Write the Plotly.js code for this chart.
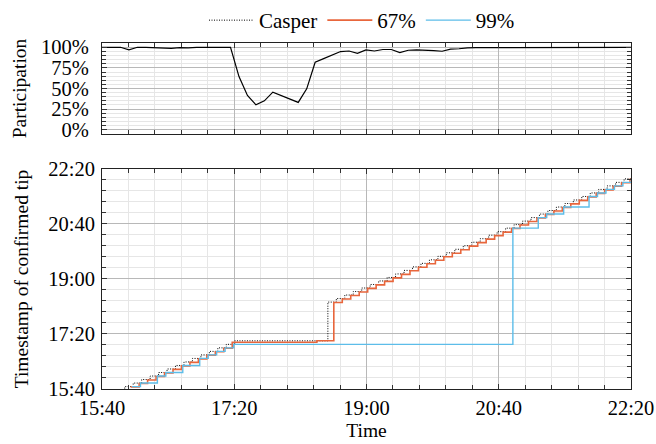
<!DOCTYPE html>
<html>
<head>
<meta charset="utf-8">
<script src="https://cdn.plot.ly/plotly-3.0.1.min.js"></script>
<style>
  html, body { margin: 0; padding: 0; background: #fff; }
  #chart { width: 656px; height: 444px; }
</style>
</head>
<body>
<div id="chart"></div>
<script>
// ---- data (clock times, same day) ----
const DAY = '2023-05-12 ';

// Participation per epoch (plotted at the middle of each epoch)
const partTimes = ['15:34:47','15:41:11','15:47:35','15:53:59','16:00:23','16:06:47','16:13:11','16:19:35','16:25:59','16:32:23',
  '16:38:47','16:45:11','16:51:35','16:57:59','17:04:23','17:10:47','17:17:11','17:23:35','17:29:59','17:36:23',
  '17:42:47','17:49:11','17:55:35','18:01:59','18:08:23','18:14:47','18:21:11','18:27:35','18:33:59','18:40:23',
  '18:46:47','18:53:11','18:59:35','19:05:59','19:12:23','19:18:47','19:25:11','19:31:35','19:37:59','19:44:23',
  '19:50:47','19:57:11','20:03:35','20:09:59','20:16:23','20:22:47','20:29:11','20:35:35','20:41:59','20:48:23',
  '20:54:47','21:01:11','21:07:35','21:13:59','21:20:23','21:26:47','21:33:11','21:39:35','21:45:59','21:52:23',
  '21:58:47','22:05:11','22:11:35','22:17:59','22:24:23'];
const partValues = [100,100,99.8,100,96.8,100,100,99.6,99.8,98.6,
  99.6,99.2,99.8,100,100,99.8,99.8,64.5,41.5,30.2,
  35.0,45.6,41.5,37.3,33.1,49.6,81.9,86.2,90.5,94.8,
  95.5,92.6,96.8,95.5,97.3,97.3,93.6,96.4,96.8,96.6,
  96.0,95.2,97.7,98.2,99.4,99.5,99.5,99.6,99.6,99.6,
  99.6,99.6,99.5,99.6,99.6,99.7,99.7,99.7,99.8,99.8,
  99.8,99.9,100,99.9,100];

// Casper: time of update -> timestamp of confirmed tip
const casperX = ['15:50:47','15:57:11','16:03:35','16:09:59','16:16:23','16:22:47','16:29:11','16:35:35','16:41:59','16:48:23',
  '16:54:47','17:01:11','17:07:35','17:13:59','17:20:23',
  '18:30:47','18:37:11','18:43:35','18:49:59','18:56:23','19:02:47','19:09:11','19:15:35','19:21:59','19:28:23',
  '19:34:47','19:41:11','19:47:35','19:53:59','20:00:23','20:06:47','20:13:11','20:19:35','20:25:59','20:32:23',
  '20:38:47','20:45:11','20:51:35','20:57:59','21:04:23','21:10:47','21:17:11','21:23:35','21:29:59','21:36:23',
  '21:42:47','21:49:11','21:55:35','22:01:59','22:08:23','22:14:47','22:21:11'];
const casperY = ['15:37:59','15:44:23','15:50:47','15:57:11','16:03:35','16:09:59','16:16:23','16:22:47','16:29:11','16:35:35',
  '16:41:59','16:48:23','16:54:47','17:01:11','17:07:35',
  '18:17:59','18:24:23','18:30:47','18:37:11','18:43:35','18:49:59','18:56:23','19:02:47','19:09:11','19:15:35',
  '19:21:59','19:28:23','19:34:47','19:41:11','19:47:35','19:53:59','20:00:23','20:06:47','20:13:11','20:19:35',
  '20:25:59','20:32:23','20:38:47','20:45:11','20:51:35','20:57:59','21:04:23','21:10:47','21:17:11','21:23:35',
  '21:29:59','21:36:23','21:42:47','21:49:11','21:55:35','22:01:59','22:08:23'];

// 67% rule
const q67X = ['16:01:41','16:08:05','16:14:29','16:20:53','16:27:17','16:33:41','16:40:05','16:46:29','16:52:53','16:59:17',
  '17:05:41','17:12:05','17:18:29','18:22:29',
  '18:35:17','18:41:41','18:48:05','18:54:29','19:00:53','19:07:17','19:13:41','19:20:05','19:26:29','19:32:53',
  '19:39:17','19:45:41','19:52:05','19:58:29','20:04:53','20:11:17','20:17:41','20:24:05','20:30:29','20:36:53',
  '20:43:17','20:49:41','20:56:05','21:02:29','21:08:53','21:15:17','21:21:41','21:28:05','21:34:29','21:40:53',
  '21:47:17','21:53:41','22:00:05','22:06:29','22:12:53','22:19:17','22:25:41'];
const q67Y = ['15:43:38','15:50:02','15:56:26','16:02:50','16:09:14','16:15:38','16:22:02','16:28:26','16:34:50','16:41:14',
  '16:47:38','16:54:02','17:05:05','17:07:35',
  '18:17:14','18:23:38','18:30:02','18:36:26','18:42:50','18:49:14','18:55:38','19:02:02','19:08:26','19:14:50',
  '19:21:14','19:27:38','19:34:02','19:40:26','19:46:50','19:53:14','19:59:38','20:06:02','20:12:26','20:18:50',
  '20:25:14','20:31:38','20:38:02','20:44:26','20:50:50','20:57:14','21:03:38','21:10:02','21:16:26','21:22:50',
  '21:29:14','21:35:38','21:42:02','21:48:26','21:54:50','22:01:14','22:07:38'];

// 99% rule
const q99X = ['16:02:41','16:09:05','16:21:53','16:28:17','16:41:05','16:53:53','17:00:17','17:06:41','17:13:05','17:19:29',
  '20:50:41','21:09:53','21:16:17','21:29:05','21:48:17','21:54:41','22:01:05','22:07:29','22:13:53','22:20:17'];
const q99Y = ['15:44:23','15:50:47','16:03:35','16:09:59','16:22:47','16:35:35','16:41:59','16:48:23','16:54:47','17:01:11',
  '20:32:23','20:51:35','20:57:59','21:10:47','21:29:59','21:36:23','21:42:47','21:49:11','21:55:35','22:01:59'];

const timeTicks = ['15:40','17:20','19:00','20:40','22:20'];
const partTicks = [0, 25, 50, 75, 100];
const partTickText = ['0%','25%','50%','75%','100%'];

const d = a => a.map(t => DAY + t);

const FONT = 'Liberation Serif';
const traces = [
  { x: d(partTimes), y: partValues, xaxis: 'x2', yaxis: 'y2', mode: 'lines',
    line: { color: '#000', width: 1.2 }, showlegend: false, hoverinfo: 'skip' },
  { x: d(casperX), y: d(casperY), mode: 'lines', name: 'Casper', line: { color: '#000', width: 1, dash: '1px,1.5px', shape: 'hv' } },
  { x: d(q67X), y: d(q67Y), mode: 'lines', name: '67%', line: { color: '#e8663c', width: 1.6, shape: 'hv' } },
  { x: d(q99X), y: d(q99Y), mode: 'lines', name: '99%', line: { color: '#5cbde9', width: 1.4, shape: 'hv' } }
];

const range = [DAY + timeTicks[0], DAY + timeTicks[timeTicks.length - 1]];
const gridMajor = '#b8b8b8', gridMinor = '#e6e6e6';
const timeAxis = {
  type: 'date', range: range,
  tickmode: 'array', tickvals: d(timeTicks), ticktext: timeTicks,
  showgrid: true, gridcolor: gridMajor, gridwidth: 1,
  minor: { tick0: range[0], dtick: 20 * 60 * 1000, showgrid: true, gridcolor: gridMinor, gridwidth: 1,
           ticks: 'inside', ticklen: 4, tickcolor: '#333' },
  ticks: 'inside', ticklen: 5, tickcolor: '#333',
  showline: true, linecolor: '#222', linewidth: 1, mirror: 'ticks',
  zeroline: false, tickfont: { family: FONT, size: 20.5, color: '#000' }
};

const layout = {
  width: 656, height: 444,
  margin: { l: 102, r: 25, t: 43, b: 55, autoexpand: false },
  paper_bgcolor: '#fff', plot_bgcolor: '#fff',
  font: { family: FONT, size: 20, color: '#000' },
  showlegend: true,
  legend: { orientation: 'h', x: 0.4915, xanchor: 'center', yref: 'container', y: 1.0, yanchor: 'top',
            itemwidth: 45, font: { family: FONT, size: 21, color: '#000' }, bgcolor: 'rgba(0,0,0,0)' },
  xaxis: Object.assign({}, timeAxis, { anchor: 'y', title: { text: 'Time', font: { family: FONT, size: 19.5 }, standoff: 5 } }),
  yaxis: Object.assign({}, timeAxis, { domain: [0, 0.636], anchor: 'x', ticklabelstandoff: 2,
            title: { text: 'Timestamp of confirmed tip', font: { family: FONT, size: 19.5 }, standoff: 14 } }),
  xaxis2: Object.assign({}, timeAxis, { anchor: 'y2', matches: 'x', showticklabels: false }),
  yaxis2: {
    domain: [0.737, 1], anchor: 'x2', range: [-5.2, 105.2],
    tickmode: 'array', tickvals: partTicks, ticktext: partTickText,
    showgrid: true, gridcolor: gridMajor, gridwidth: 1,
    minor: { tick0: 0, dtick: 5, showgrid: true, gridcolor: gridMinor, ticks: 'inside', ticklen: 4, tickcolor: '#333' },
    ticks: 'inside', ticklen: 5, tickcolor: '#333',
    showline: true, linecolor: '#222', linewidth: 1, mirror: 'ticks', zeroline: false,
    tickfont: { family: FONT, size: 20.5, color: '#000' }, ticklabelstandoff: 8,
    title: { text: 'Participation', font: { family: FONT, size: 19.5 }, standoff: 9 }
  }
};

Plotly.newPlot('chart', traces, layout, { displayModeBar: false, staticPlot: true });
</script>
</body>
</html>
